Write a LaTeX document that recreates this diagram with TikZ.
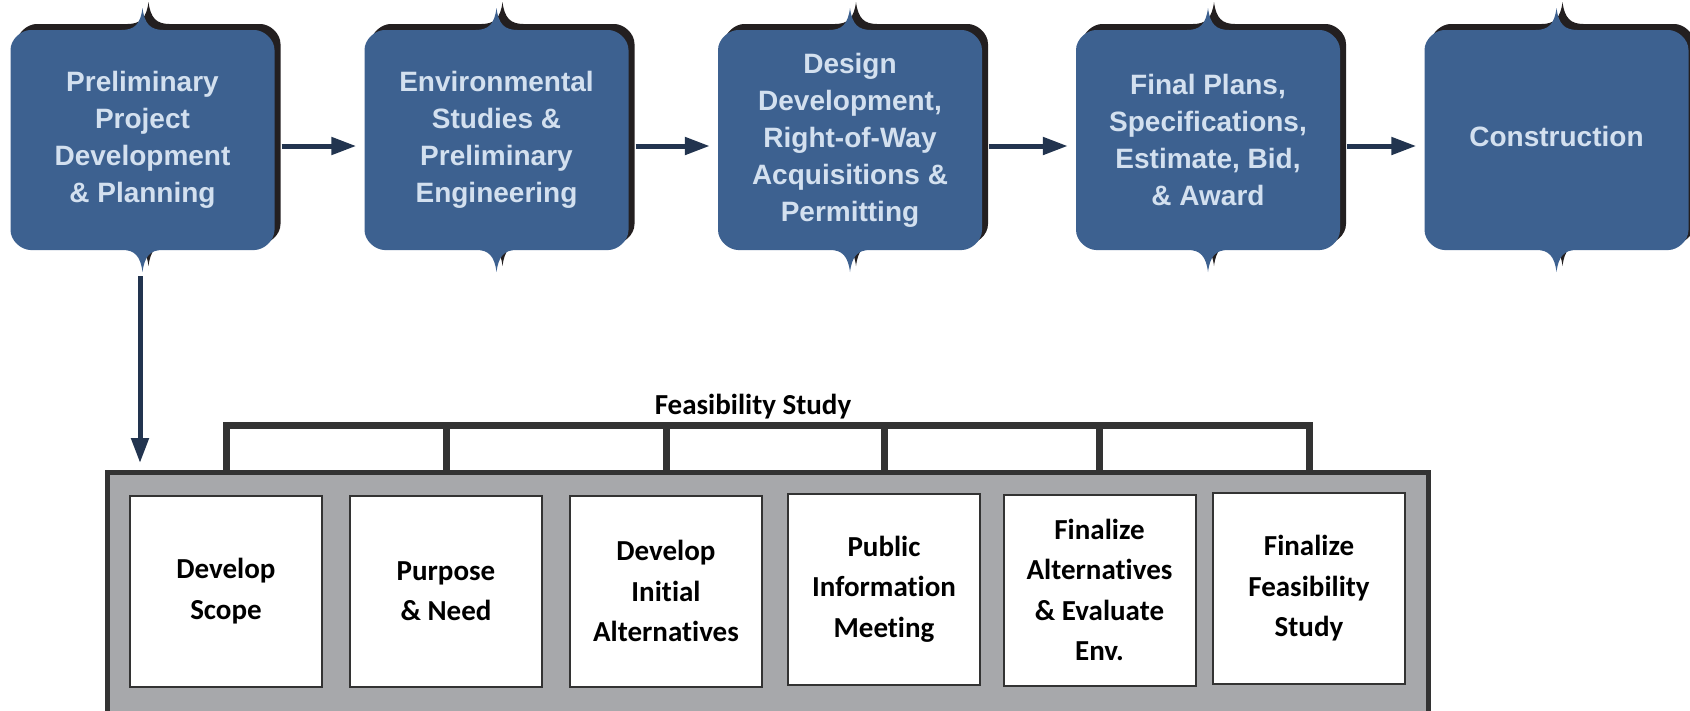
\documentclass[tikz,border=0pt]{standalone}
\usepackage{fontspec}
\setmainfont{Liberation Sans}
\newfontfamily\calfont[Ligatures=NoCommon]{Carlito}
\usetikzlibrary{arrows.meta}
\definecolor{boxblue}{HTML}{3D6190}
\definecolor{boxtext}{HTML}{D3E0EF}
\definecolor{shadowc}{HTML}{231F20}
\definecolor{arrowc}{HTML}{22344F}
\definecolor{graybg}{HTML}{A7A8AB}
\definecolor{darkline}{HTML}{333333}
\newcommand{\myTagBox}[3]{%
\fill[#2,shift={#3}] ({#1-132},50)
 .. controls ({#1-132},39) and ({#1-121},30) .. ({#1-112},30)
 -- ({#1-21},30)
 .. controls ({#1-8},30) and ({#1-2},24) .. ({#1},8)
 .. controls ({#1+2},24) and ({#1+8},30) .. ({#1+21},30)
 -- ({#1+112},30)
 .. controls ({#1+121},30) and ({#1+132},39) .. ({#1+132},50)
 -- ({#1+132},230)
 .. controls ({#1+132},241) and ({#1+121},250) .. ({#1+112},250)
 -- ({#1+20},250)
 .. controls ({#1+8},250) and ({#1+2},256) .. ({#1},272)
 .. controls ({#1-2},256) and ({#1-8},250) .. ({#1-20},250)
 -- ({#1-112},250)
 .. controls ({#1-121},250) and ({#1-132},241) .. ({#1-132},230)
 -- cycle;}
\begin{document}
\begin{tikzpicture}[x=1pt,y=-1pt,
 toptext/.style={font=\bfseries\fontsize{28}{37}\selectfont, text=boxtext, align=center,
   minimum width=264pt, minimum height=220pt, inner sep=0pt},
 arr/.style={draw=arrowc, line width=5pt, -{Triangle[length=25pt,width=17pt]}},
 fsbox/.style={draw=darkline, line width=2pt, fill=white, minimum width=192pt,
   minimum height=191pt, inner sep=0pt, align=center,
   font=\calfont\bfseries\fontsize{29}{40.5}\selectfont},
 bracket/.style={draw=darkline, line width=7pt, line join=miter}]
\useasboundingbox (0,0) rectangle (1690,710);
% top stage boxes: shadows then fills
\foreach \cx in {142.5,496.5,850,1208,1556.5} {\myTagBox{\cx}{shadowc}{(6,-6)}}
\foreach \cx in {142.5,496.5,850,1208,1556.5} {\myTagBox{\cx}{boxblue}{(0,0)}}
\node[toptext] (b1) at (142.5,140) {Preliminary\\Project\\Development\\\& Planning};
\node[toptext] (b2) at (496.5,140) {Environmental\\Studies \&\\Preliminary\\Engineering};
\node[toptext] (b3) at (850,140) {Design\\Development,\\Right-of-Way\\Acquisitions \&\\Permitting};
\node[toptext] (b4) at (1208,140) {Final Plans,\\Specifications,\\Estimate, Bid,\\\& Award};
\node[toptext] (b5) at (1556.5,140) {\raisebox{8pt}{Construction}};
\foreach \a/\b in {b1/b2,b2/b3,b3/b4,b4/b5}
  \draw[arr] ([xshift=7pt,yshift=-6pt]\a.east) -- ([xshift=-8pt,yshift=-6pt]\b.west);
% feasibility study frame
\node[draw=darkline, fill=graybg, line width=5pt, minimum width=1321pt, minimum height=270pt,
  inner sep=0pt, anchor=north west] (fs) at (105,470) {};
\draw[arr] ([xshift=-2.5pt,yshift=-26pt]b1.south) -- ([xshift=-2.5pt,yshift=7pt]b1.south |- fs.north);
\node[fsbox] (s1) at (226,591) {Develop\\Scope};
\node[fsbox] (s2) at (446,591) {Purpose\\\& Need};
\node[fsbox] (s3) at (666,591) {Develop\\Initial\\Alternatives};
\node[fsbox] (s4) at (884,589) {Public\\Information\\Meeting};
\node[fsbox] (s5) at (1099.5,590) {Finalize\\Alternatives\\\& Evaluate\\Env.};
\node[fsbox] (s6) at (1309,588.5) {Finalize\\Feasibility\\Study};
\coordinate (brtop) at (0,425);
\draw[bracket] (s1 |- fs.north) -- (s1 |- brtop) -- (s6 |- brtop) -- (s6 |- fs.north);
\foreach \s in {s2,s3,s4,s5} \draw[bracket] (\s |- brtop) -- (\s |- fs.north);
\node[font=\calfont\bfseries\fontsize{29}{34}\selectfont, anchor=base, inner sep=0pt] (fslabel) at (753,414) {Feasibility Study};
\end{tikzpicture}
\end{document}
